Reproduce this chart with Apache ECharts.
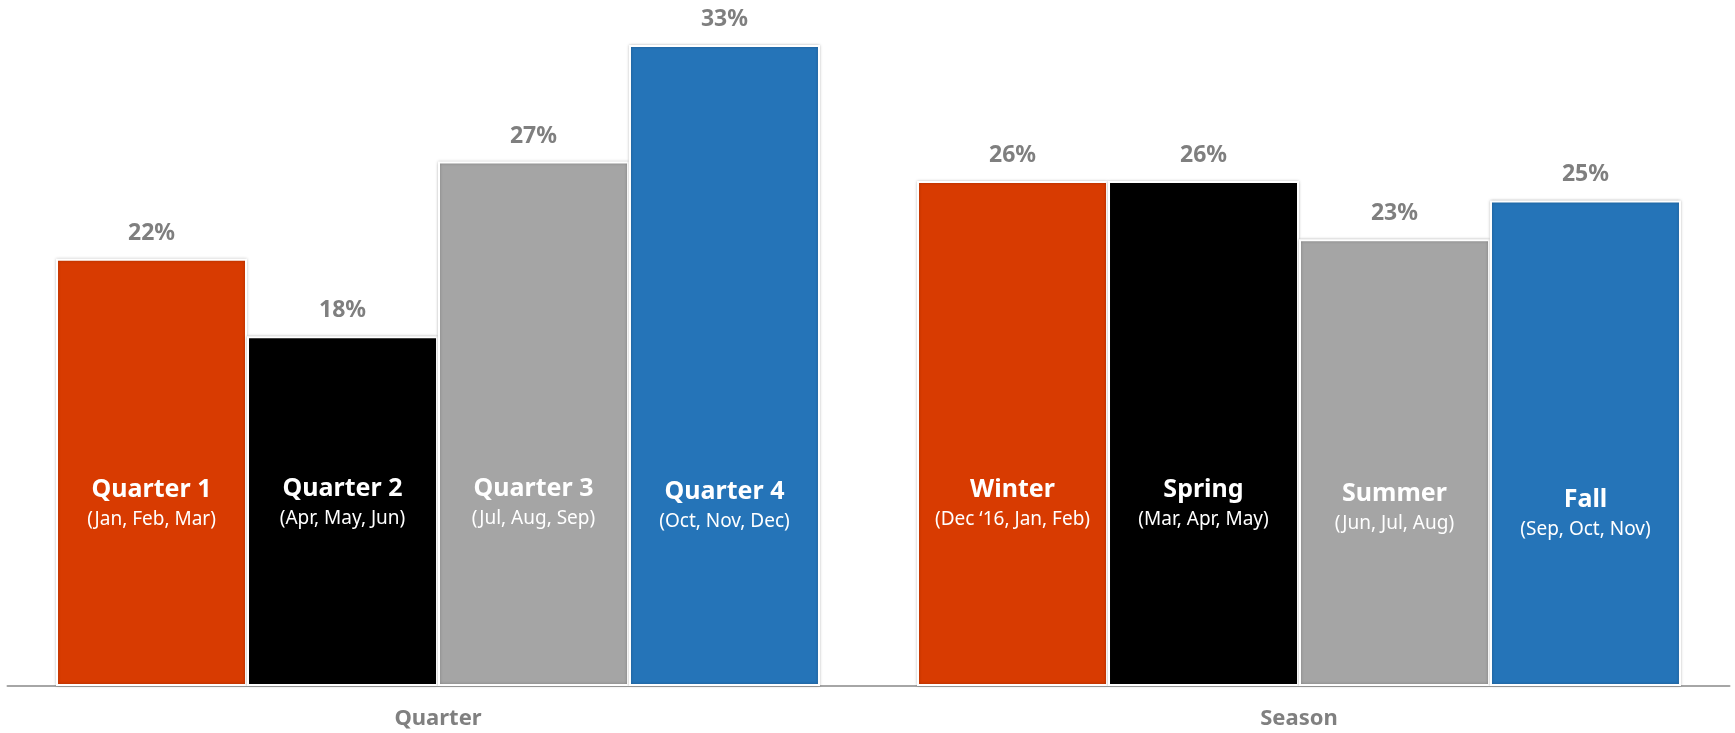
<!DOCTYPE html>
<html>
<head>
<meta charset="utf-8">
<title>Quarter / Season</title>
<script src="https://cdn.jsdelivr.net/npm/echarts@6/dist/echarts.min.js"></script>
<style>
html,body{margin:0;padding:0;background:#fff}
#chart{width:1735px;height:733px}
</style>
</head>
<body>
<div id="chart"></div>
<script>
// data
var categories = ['Quarter', 'Season'];

var slot1Names = ['Quarter 1', 'Winter'];
var slot1Months = ['(Jan, Feb, Mar)', '(Dec \u201816, Jan, Feb)'];
var slot1Values = [22, 26];

var slot2Names = ['Quarter 2', 'Spring'];
var slot2Months = ['(Apr, May, Jun)', '(Mar, Apr, May)'];
var slot2Values = [18, 26];

var slot3Names = ['Quarter 3', 'Summer'];
var slot3Months = ['(Jul, Aug, Sep)', '(Jun, Jul, Aug)'];
var slot3Values = [27, 23];

var slot4Names = ['Quarter 4', 'Fall'];
var slot4Months = ['(Oct, Nov, Dec)', '(Sep, Oct, Nov)'];
var slot4Values = [33, 25];

// styles
var colors = ['#D83B01', '#000000', '#A5A5A5', '#2574B8'];
var labelLift = [[0, 0], [1, 0], [1, -4], [-2, -10]]; // small nudges of the inner text
var gapPct = '11.27%';

var slots = [
    {names: slot1Names, months: slot1Months, values: slot1Values},
    {names: slot2Names, months: slot2Months, values: slot2Values},
    {names: slot3Names, months: slot3Months, values: slot3Values},
    {names: slot4Names, months: slot4Months, values: slot4Values}
];

var font = '"Noto Sans", "Open Sans", sans-serif';
var series = [];

// coloured bars with the names inside
slots.forEach(function (s, i) {
    series.push({
        type: 'bar',
        name: 'slot' + (i + 1),
        xAxisIndex: 0,
        barGap: 0,
        barCategoryGap: gapPct,
        itemStyle: {
            color: colors[i],
            borderColor: '#fff',
            borderWidth: 2,
            shadowColor: 'rgba(0,0,0,0.25)',
            shadowBlur: 3
        },
        data: s.values.map(function (v, j) {
            return {
                value: v,
                label: {
                    distance: 151 + labelLift[i][j],
                    formatter: '{t|' + s.names[j] + '}\n{s|' + s.months[j] + '}'
                }
            };
        }),
        label: {
            show: true,
            position: 'insideBottom',
            align: 'center',
            rich: {
                t: {fontFamily: font, fontWeight: 'bold', fontSize: 25, color: '#fff', lineHeight: 30, align: 'center'},
                s: {fontFamily: font, fontSize: 19, color: '#fff', lineHeight: 30, align: 'center'}
            }
        }
    });
});

// invisible copies carrying the percentages on top
slots.forEach(function (s, i) {
    series.push({
        type: 'bar',
        name: 'value' + (i + 1),
        xAxisIndex: 1,
        barGap: 0,
        barCategoryGap: gapPct,
        silent: true,
        itemStyle: {color: 'rgba(0,0,0,0)'},
        data: s.values,
        label: {
            show: true,
            position: 'top',
            distance: 14,
            formatter: '{c}%',
            fontFamily: font,
            fontWeight: 'bold',
            fontSize: 23,
            color: '#7F7F7F'
        }
    });
});

var myChart = echarts.init(document.getElementById('chart'));
myChart.setOption({
    animation: false,
    grid: {left: 7.5, right: 5.5, top: 45, bottom: 47},
    xAxis: [{
        type: 'category',
        data: categories,
        axisLine: {lineStyle: {color: '#A6A6A6', width: 2}},
        axisTick: {show: false},
        axisLabel: {
            margin: 22,
            fontFamily: font,
            fontWeight: 'bold',
            fontSize: 22,
            color: '#808080'
        }
    }, {
        type: 'category',
        data: categories,
        show: false
    }],
    yAxis: {
        type: 'value',
        min: 0,
        max: 33,
        show: false,
        splitLine: {show: false}
    },
    series: series
});
</script>
</body>
</html>
